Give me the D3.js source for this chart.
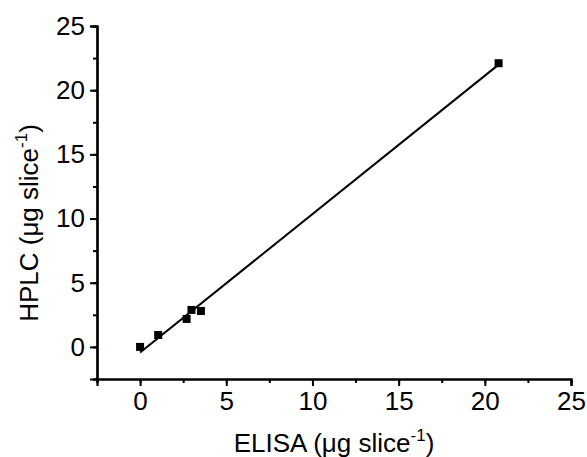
<!DOCTYPE html>
<html><head><meta charset="utf-8">
<script src="https://cdn.jsdelivr.net/npm/d3@7/dist/d3.min.js"></script>
<style>body{margin:0;background:#fff}text{font-family:"Liberation Sans",Arial,sans-serif;fill:#000}</style>
</head><body><svg id="c" width="587" height="457"></svg>
<script>
const elisa = [0, 1.05, 2.7, 2.98, 3.53, 20.8];
const hplc  = [0, 0.93, 2.18, 2.88, 2.8, 22.1];
const xTicks = [0, 5, 10, 15, 20, 25];
const yTicks = [0, 5, 10, 15, 20, 25];

const svg = d3.select("#c");
const x = d3.scaleLinear().domain([-2.5, 25]).range([97, 571]);
const y = d3.scaleLinear().domain([-2.5, 25]).range([379, 26]);

// linear regression fit
const n = elisa.length;
const mx = d3.mean(elisa), my = d3.mean(hplc);
let sxy = 0, sxx = 0;
for (let i = 0; i < n; i++) { sxy += (elisa[i]-mx)*(hplc[i]-my); sxx += (elisa[i]-mx)**2; }
const slope = sxy/sxx, icpt = my - slope*mx;
const xFit = [d3.min(elisa), d3.max(elisa)];

svg.append("line")
  .attr("x1", x(xFit[0])).attr("y1", y(icpt + slope*xFit[0]))
  .attr("x2", x(xFit[1])).attr("y2", y(icpt + slope*xFit[1]))
  .attr("stroke", "#000").attr("stroke-width", 2);

svg.selectAll("rect.pt").data(elisa).enter().append("rect")
  .attr("class", "pt")
  .attr("x", (d,i) => x(d) - 4).attr("y", (d,i) => y(hplc[i]) - 4)
  .attr("width", 8).attr("height", 8).attr("fill", "#000");

const minorX = d3.range(-2.5, 25.01, 2.5);
const minorY = d3.range(-2.5, 25.01, 2.5);

// x axis
const gx = svg.append("g").attr("transform", "translate(0,379)");
gx.call(d3.axisBottom(x).tickValues(minorX).tickSize(4).tickFormat(""));
const gx2 = svg.append("g").attr("transform", "translate(0,379)");
gx2.call(d3.axisBottom(x).tickValues(xTicks).tickSize(7).tickPadding(6).tickFormat(d3.format("d")));
[gx, gx2].forEach(g => { g.select(".domain").attr("stroke-width", 2.2); g.selectAll(".tick line").attr("stroke-width", 2); });
gx2.selectAll("text").style("font-size", "26px").attr("font-family", null);

// y axis
const gy = svg.append("g").attr("transform", "translate(97,0)");
gy.call(d3.axisLeft(y).tickValues(minorY).tickSize(4).tickFormat(""));
const gy2 = svg.append("g").attr("transform", "translate(97,0)");
gy2.call(d3.axisLeft(y).tickValues(yTicks).tickSize(7).tickPadding(5).tickFormat(d3.format("d")));
[gy, gy2].forEach(g => { g.select(".domain").attr("stroke-width", 2.2); g.selectAll(".tick line").attr("stroke-width", 2); });
gy2.selectAll("text").style("font-size", "26px").attr("font-family", null);

// titles
const xt = svg.append("text").attr("x", 334).attr("y", 452).attr("text-anchor", "middle").style("font-size", "26px");
xt.append("tspan").text("ELISA (μg slice");
xt.append("tspan").attr("dy", -11).style("font-size", "17px").text("-1");
xt.append("tspan").attr("dy", 11).text(")");

const yt = svg.append("text").attr("transform", "translate(38,223) rotate(-90)").attr("text-anchor", "middle").style("font-size", "26px");
yt.append("tspan").text("HPLC (μg slice");
yt.append("tspan").attr("dy", -11).style("font-size", "17px").text("-1");
yt.append("tspan").attr("dy", 11).text(")");
</script></body></html>
